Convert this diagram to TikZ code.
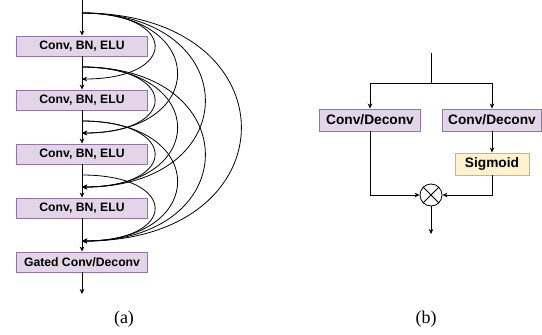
\documentclass[tikz,border=0pt]{standalone}
\usepackage{fontspec}
\setmainfont{Liberation Serif}
\newfontfamily\arialfont{Liberation Sans}
\usetikzlibrary{arrows.meta}
\tikzset{
  arr/.style={line width=0.8bp, draw=black, -{Stealth[length=5bp,width=4.5bp,inset=1.5bp]}},
  ln/.style={line width=0.8bp, draw=black},
  purplebox/.style={draw=purpleborder, fill=purplefill, line width=0.9bp, inner sep=0pt,
    minimum height=20bp, text=black},
  yellowbox/.style={draw=yellowborder, fill=yellowfill, line width=0.9bp, inner sep=0pt,
    minimum height=22bp, text=black},
  fa/.style={font=\arialfont\bfseries\fontsize{12.2bp}{14bp}\selectfont},
  fb/.style={font=\arialfont\bfseries\fontsize{13.7bp}{16bp}\selectfont},
  caption/.style={font=\fontsize{18bp}{20bp}\selectfont, inner sep=0pt}
}
\definecolor{purplefill}{HTML}{E1D5E7}
\definecolor{purpleborder}{HTML}{9673A6}
\definecolor{yellowfill}{HTML}{FFF2CC}
\definecolor{yellowborder}{HTML}{D6B656}
\begin{document}
\begin{tikzpicture}[x=1bp,y=-1bp]
\useasboundingbox (0,0) rectangle (542,334);
% ---------- (a) ----------
\node[purplebox, fa, minimum width=131bp] (b1) at (82,46) {Conv, BN, ELU};
\node[purplebox, fa, minimum width=131bp] (b2) at (82,100) {Conv, BN, ELU};
\node[purplebox, fa, minimum width=131bp] (b3) at (82,154) {Conv, BN, ELU};
\node[purplebox, fa, minimum width=131bp] (b4) at (82,208) {Conv, BN, ELU};
\node[purplebox, fa, minimum width=131bp] (g) at (82,262) {Gated Conv/Deconv};
\coordinate (top) at (82,0);
\coordinate (out) at (82,294);
\draw[arr] (top) -- (b1);
\draw[arr] (b1) -- (b2);
\draw[arr] (b2) -- (b3);
\draw[arr] (b3) -- (b4);
\draw[arr] (b4) -- (g);
\draw[arr] (g) -- (out);
% sources and targets of the dense skip connections
\coordinate (s0) at (82,13);
\coordinate (s1) at (82,67);
\coordinate (s2) at (82,121);
\coordinate (s3) at (82,175);
\coordinate (t1) at (82,79);
\coordinate (t2) at (82,133);
\coordinate (t3) at (82,187);
\coordinate (t4) at (82,241);
\draw[arr] (s0) .. controls +(97,0) and +(97,0) .. (t1);
\draw[arr] (s0) .. controls +(127,0) and +(127,0) .. (t2);
\draw[arr] (s0) .. controls +(164,0) and +(164,0) .. (t3);
\draw[arr] (s0) .. controls +(212,0) and +(212,0) .. (t4);
\draw[arr] (s1) .. controls +(97,0) and +(97,0) .. (t2);
\draw[arr] (s1) .. controls +(127,0) and +(127,0) .. (t3);
\draw[arr] (s1) .. controls +(164,0) and +(164,0) .. (t4);
\draw[arr] (s2) .. controls +(97,0) and +(97,0) .. (t3);
\draw[arr] (s2) .. controls +(127,0) and +(127,0) .. (t4);
\draw[arr] (s3) .. controls +(97,0) and +(97,0) .. (t4);
\node[caption] (capa) at (124,319) {(a)};
% ---------- (b) ----------
\node[purplebox, fb, minimum width=101bp, minimum height=22bp] (c1) at (370,120) {Conv/Deconv};
\node[purplebox, fb, minimum width=99bp, minimum height=22bp] (c2) at (492,120) {Conv/Deconv};
\node[yellowbox, fb, minimum width=74bp] (sg) at (492,164) {Sigmoid};
\node[circle, draw=black, line width=0.8bp, minimum size=22bp, inner sep=0pt] (m) at (431,195) {};
\draw[ln] (m.north west) -- (m.south east);
\draw[ln] (m.north east) -- (m.south west);
\coordinate (tb) at (431,53);
\coordinate (j) at (431,83);
\coordinate (ob) at (431,234);
\draw[ln] (tb) -- (j);
\draw[arr] (j) -| (c1.north);
\draw[arr] (j) -| (c2.north);
\draw[arr] (c2.south) -- (sg.north);
\draw[arr] (c1.south) |- (m.west);
\draw[arr] (sg.south) |- (m.east);
\draw[arr] (m.south) -- (ob);
\node[caption] (capb) at (426,319) {(b)};
\end{tikzpicture}
\end{document}
